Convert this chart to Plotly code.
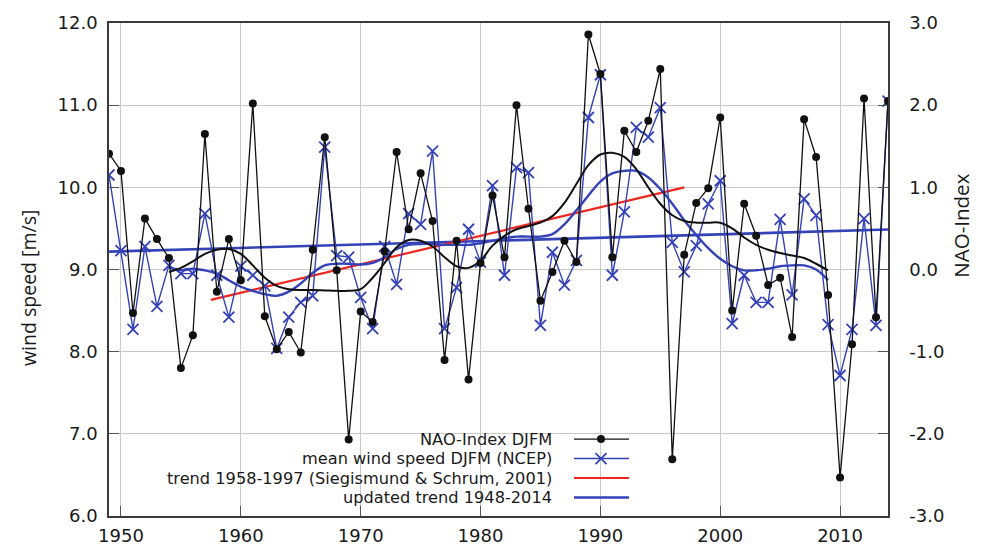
import plotly.graph_objects as go

# ---- data -------------------------------------------------------------
years = list(range(1949, 2015))

# NAO index, winter mean (DJFM)
nao_djfm = [
    1.41, 1.20, -0.53, 0.62, 0.37, 0.14, -1.20, -0.80, 1.65, -0.27,
    0.37, -0.13, 2.02, -0.57, -0.97, -0.76, -1.01, 0.24, 1.61, -0.01,
    -2.07, -0.51, -0.64, 0.22, 1.43, 0.49, 1.17, 0.59, -1.10, 0.35,
    -1.34, 0.08, 0.90, 0.15, 2.00, 0.74, -0.38, -0.03, 0.35, 0.09,
    2.86, 2.38, 0.15, 1.69, 1.43, 1.81, 2.44, -2.31, 0.18, 0.81,
    0.99, 1.85, -0.50, 0.80, 0.41, -0.19, -0.10, -0.82, 1.83, 1.37,
    -0.31, -2.53, -0.91, 2.08, -0.58, 2.05,
]

# mean wind speed DJFM from NCEP reanalysis [m/s]
wind_djfm = [
    10.15, 9.23, 8.27, 9.28, 8.55, 9.05, 8.95, 8.95, 9.68, 8.93,
    8.42, 9.04, 8.93, 8.80, 8.04, 8.42, 8.60, 8.68, 10.49, 9.17,
    9.15, 8.66, 8.28, 9.28, 8.82, 9.68, 9.55, 10.44, 8.28, 8.78,
    9.49, 9.09, 10.02, 8.93, 10.24, 10.18, 8.32, 9.21, 8.81, 9.11,
    10.85, 11.37, 8.93, 9.70, 10.73, 10.61, 10.97, 9.33, 8.97, 9.29,
    9.80, 10.08, 8.34, 8.93, 8.60, 8.60, 9.61, 8.69, 9.86, 9.66,
    8.33, 7.71, 8.27, 9.62, 8.32, 11.05,
]

# low-pass filtered series
smooth_years = list(range(1954, 2010))
nao_smooth = [
    -0.03, 0.02, 0.10, 0.19, 0.24, 0.25, 0.19, 0.05, -0.10, -0.20,
    -0.24, -0.25, -0.25, -0.255, -0.26, -0.26, -0.24, -0.10, 0.08, 0.27,
    0.36, 0.35, 0.28, 0.15, 0.04, 0.02, 0.11, 0.29, 0.41, 0.49,
    0.53, 0.57, 0.65, 0.81, 1.04, 1.27, 1.40, 1.42, 1.37, 1.22,
    1.00, 0.80, 0.66, 0.59, 0.57, 0.57, 0.57, 0.50, 0.39, 0.30,
    0.24, 0.20, 0.17, 0.14, 0.07, -0.01,
]
wind_smooth = [
    9.03, 8.99, 9.01, 8.99, 8.95, 8.87, 8.79, 8.74, 8.70, 8.68,
    8.73, 8.83, 8.96, 9.05, 9.07, 9.07, 9.06, 9.08, 9.15, 9.25,
    9.30, 9.31, 9.31, 9.30, 9.30, 9.30, 9.32, 9.35, 9.38, 9.40,
    9.40, 9.40, 9.43, 9.55, 9.72, 9.90, 10.07, 10.17, 10.20, 10.20,
    10.12, 9.98, 9.80, 9.60, 9.42, 9.26, 9.13, 9.04, 8.99, 8.99,
    9.01, 9.04, 9.05, 9.05, 9.00, 8.87,
]

# linear wind speed trends
trend_old_years = [1957.5, 1997.0]
trend_old_values = [8.63, 10.00]
trend_new_years = [1949, 2014]
trend_new_values = [9.217, 9.486]

x_ticks = [1950, 1960, 1970, 1980, 1990, 2000, 2010]
wind_ticks = [6, 7, 8, 9, 10, 11, 12]
nao_ticks = [-3, -2, -1, 0, 1, 2, 3]

legend_labels = [
    "NAO-Index DJFM",
    "mean wind speed DJFM (NCEP)",
    "trend 1958-1997 (Siegismund & Schrum, 2001)",
    "updated trend 1948-2014",
]

# ---- styles -----------------------------------------------------------
BLACK = "#111111"
BLUE = "rgb(52,66,184)"
RED = "rgb(240,38,30)"
GRID = "#c9c9c9"
TEXT = "#1a1a1a"
FONT = "DejaVu Sans"
TITLE_FONT = "Open Sans"

# plot area in pixels (figure 981 x 558)
L, R, T, B = 109, 888, 18, 524


def px_x(px):
    return (px - L) / (R - L)


def px_y(py):
    return (B - py) / (B - T)


nao_marker = dict(symbol="circle", size=8, color=BLACK)
wind_marker = dict(symbol="x-thin-open", size=11, color=BLUE,
                   line=dict(color=BLUE, width=1.8))

fig = go.Figure()

# trends
fig.add_trace(go.Scatter(x=trend_new_years, y=trend_new_values, mode="lines",
                         line=dict(color=BLUE, width=2.6), yaxis="y"))
fig.add_trace(go.Scatter(x=trend_old_years, y=trend_old_values, mode="lines",
                         line=dict(color=RED, width=2.2), yaxis="y"))

# smoothed curves
fig.add_trace(go.Scatter(x=smooth_years, y=wind_smooth, mode="lines",
                         line=dict(color=BLUE, width=2.4, shape="spline"),
                         yaxis="y"))
fig.add_trace(go.Scatter(x=smooth_years, y=nao_smooth, mode="lines",
                         line=dict(color=BLACK, width=2.0, shape="spline"),
                         yaxis="y2"))

# annual series
fig.add_trace(go.Scatter(x=years, y=nao_djfm, mode="lines+markers",
                         line=dict(color=BLACK, width=1.3),
                         marker=nao_marker, yaxis="y2"))
fig.add_trace(go.Scatter(x=years, y=wind_djfm, mode="lines+markers",
                         line=dict(color=BLUE, width=1.4),
                         marker=wind_marker, yaxis="y"))

# key: text on the left, line samples on the right
key_x0, key_x1, key_xm = px_x(574), px_x(629), px_x(601)
key_text_x = px_x(553)
key_rows = [px_y(445), px_y(465), px_y(485), px_y(505)]
key_styles = [
    dict(line=dict(color=BLACK, width=1.3), marker=nao_marker),
    dict(line=dict(color=BLUE, width=1.4), marker=wind_marker),
    dict(line=dict(color=RED, width=2.2)),
    dict(line=dict(color=BLUE, width=2.6)),
]
for row, st, lab in zip(key_rows, key_styles, legend_labels):
    fig.add_trace(go.Scatter(x=[key_x0, key_x1], y=[row, row], mode="lines",
                             line=st["line"], xaxis="x3", yaxis="y3",
                             hoverinfo="skip"))
    if "marker" in st:
        fig.add_trace(go.Scatter(x=[key_xm], y=[row], mode="markers",
                                 marker=st["marker"], xaxis="x3", yaxis="y3",
                                 hoverinfo="skip"))
    fig.add_annotation(x=key_text_x, y=row, xref="paper", yref="paper",
                       text=lab, showarrow=False, xanchor="right",
                       yanchor="middle", borderpad=0,
                       font=dict(family=FONT, size=16.2, color=TEXT))

# white panel behind the key (above grid, below data)
fig.add_shape(type="rect", xref="paper", yref="paper",
              x0=0.0015, x1=px_x(710), y0=0.0015, y1=px_y(433),
              fillcolor="white", line=dict(width=0), layer="between")

# axis titles
fig.add_annotation(xref="paper", yref="paper", x=px_x(28), y=px_y(290),
                   xanchor="center", yanchor="middle",
                   text="wind speed [m/s]", showarrow=False, textangle=-90,
                   font=dict(family=TITLE_FONT, size=19.5, color=TEXT))
fig.add_annotation(xref="paper", yref="paper", x=px_x(961), y=px_y(226),
                   xanchor="center", yanchor="middle",
                   text="NAO-Index", showarrow=False, textangle=-90,
                   font=dict(family=TITLE_FONT, size=20.5, color=TEXT))

axis_common = dict(showline=True, linecolor="#3a3a3a", linewidth=1.5,
                   showgrid=True, gridcolor=GRID, gridwidth=1,
                   ticks="inside", ticklen=10, tickcolor="#555555",
                   zeroline=False,
                   tickfont=dict(family=FONT, size=18, color=TEXT))

fig.update_layout(
    width=981, height=558,
    margin=dict(l=L, r=981 - R, t=T, b=558 - B),
    paper_bgcolor="white", plot_bgcolor="white",
    showlegend=False,
    xaxis=dict(range=[1949, 2014], tickvals=x_ticks,
               ticktext=[str(t) for t in x_ticks], mirror=True,
               ticklabelstandoff=3, **axis_common),
    yaxis=dict(range=[6, 12], tickvals=wind_ticks,
               ticktext=[f"{t:.1f}" for t in wind_ticks], mirror=True,
               ticklabelstandoff=6, **axis_common),
    yaxis2=dict(range=[-3, 3], tickvals=nao_ticks,
                ticktext=[f"{t:.1f}" for t in nao_ticks],
                overlaying="y", side="right", anchor="x",
                ticklabelstandoff=16,
                **{**axis_common, "showgrid": False}),
    xaxis3=dict(range=[0, 1], overlaying="x", visible=False),
    yaxis3=dict(range=[0, 1], overlaying="y", visible=False, anchor="x3"),
)

fig.write_html("out.html")
